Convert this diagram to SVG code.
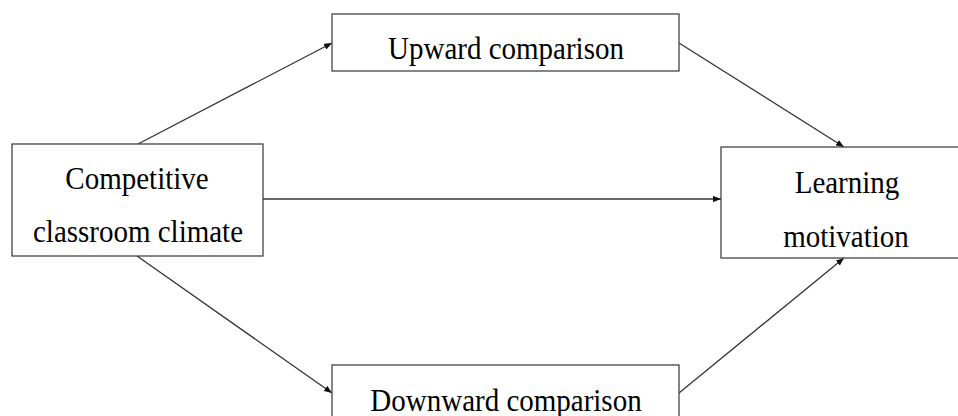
<svg xmlns="http://www.w3.org/2000/svg" width="958" height="416" viewBox="0 0 958 416">
<style>
.box{fill:#fff;stroke:#444;stroke-width:1.3}
.t{font-family:"Liberation Serif","Times New Roman",serif;font-size:29px;fill:#000;text-anchor:middle}
.c{stroke:#333;stroke-width:1.3;fill:none;marker-end:url(#ah)}
</style>
<defs>
<marker id="ah" viewBox="0 0 10 8" refX="10" refY="4" markerWidth="8" markerHeight="6.5" markerUnits="userSpaceOnUse" orient="auto">
<path d="M0,0 L10,4 L0,8 Z" fill="#111"/>
</marker>
</defs>
<rect width="958" height="416" fill="#fff"/>
<g id="connectors">
<line class="c" x1="138" y1="144" x2="332" y2="43"/>
<line class="c" x1="679" y1="43" x2="844" y2="147"/>
<line class="c" x1="263" y1="199" x2="721" y2="199"/>
<line class="c" x1="137" y1="256" x2="332" y2="393"/>
<line class="c" x1="679" y1="393" x2="844" y2="258"/>
</g>
<g id="competitive">
<rect class="box" x="12" y="144" width="251" height="112"/>
<text class="t" transform="translate(137,189) scale(1,1.07)">Competitive</text>
<text class="t" transform="translate(138,242) scale(1,1.07)">classroom  climate</text>
</g>
<g id="upward">
<rect class="box" x="332" y="14" width="347" height="57"/>
<text class="t" transform="translate(506,59) scale(1,1.07)">Upward comparison</text>
</g>
<g id="learning">
<rect class="box" x="721" y="147" width="250" height="111"/>
<text class="t" transform="translate(847,193) scale(1,1.07)">Learning</text>
<text class="t" transform="translate(846,247) scale(1,1.07)">motivation</text>
</g>
<g id="downward">
<rect class="box" x="332" y="365" width="347" height="60"/>
<text class="t" transform="translate(506,411) scale(1,1.07)">Downward comparison</text>
</g>
</svg>
